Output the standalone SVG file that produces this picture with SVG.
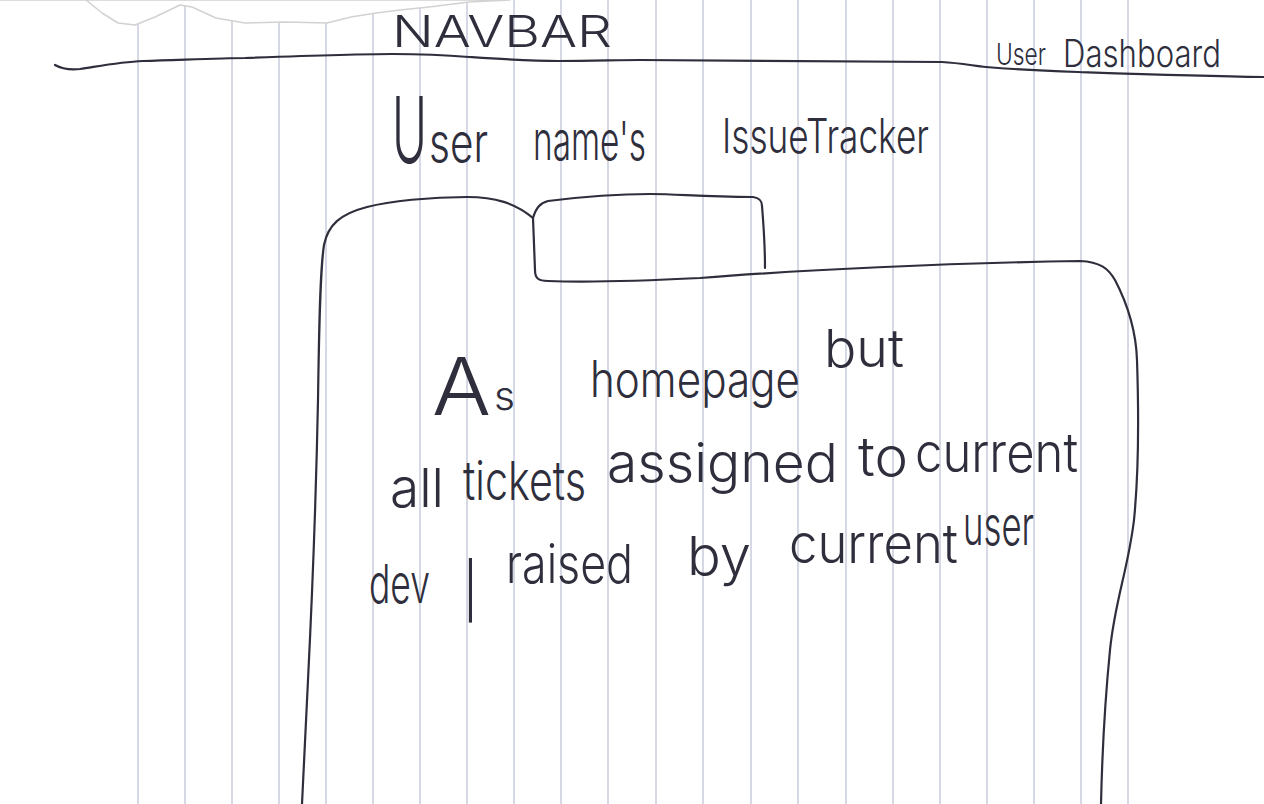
<svg xmlns="http://www.w3.org/2000/svg" width="1264" height="804" viewBox="0 0 1264 804">
  <style>
    .rule { stroke: #c9cbdd; stroke-width: 1.5; }
    .ink { fill: none; stroke: #2e2e3c; stroke-width: 2.2; stroke-linecap: round; stroke-linejoin: round; }
    .hand { font-family: Inter, Roboto, "Liberation Sans", sans-serif; font-weight: 300; fill: #2e2e3c; }
    .tear { fill: #ffffff; stroke: #d2d2d2; stroke-width: 1.5; stroke-linejoin: round; }
  </style>

  <!-- paper -->
  <rect x="0" y="0" width="1264" height="804" fill="#ffffff"/>

  <!-- vertical ruling of the notebook page -->
  <g id="ruling">
    <line class="rule" x1="138" y1="0" x2="138" y2="804"/>
    <line class="rule" x1="185" y1="0" x2="185" y2="804"/>
    <line class="rule" x1="232" y1="0" x2="232" y2="804"/>
    <line class="rule" x1="279" y1="0" x2="279" y2="804"/>
    <line class="rule" x1="326" y1="0" x2="326" y2="804"/>
    <line class="rule" x1="373" y1="0" x2="373" y2="804"/>
    <line class="rule" x1="420" y1="0" x2="420" y2="804"/>
    <line class="rule" x1="467" y1="0" x2="467" y2="804"/>
    <line class="rule" x1="514" y1="0" x2="514" y2="804"/>
    <line class="rule" x1="561" y1="0" x2="561" y2="804"/>
    <line class="rule" x1="608" y1="0" x2="608" y2="804"/>
    <line class="rule" x1="656" y1="0" x2="656" y2="804"/>
    <line class="rule" x1="703" y1="0" x2="703" y2="804"/>
    <line class="rule" x1="751" y1="0" x2="751" y2="804"/>
    <line class="rule" x1="798" y1="0" x2="798" y2="804"/>
    <line class="rule" x1="846" y1="0" x2="846" y2="804"/>
    <line class="rule" x1="893" y1="0" x2="893" y2="804"/>
    <line class="rule" x1="940" y1="0" x2="940" y2="804"/>
    <line class="rule" x1="987" y1="0" x2="987" y2="804"/>
    <line class="rule" x1="1034" y1="0" x2="1034" y2="804"/>
    <line class="rule" x1="1081" y1="0" x2="1081" y2="804"/>
    <line class="rule" x1="1128" y1="0" x2="1128" y2="804"/>
  </g>

  <!-- torn top edge of the sheet -->
  <path class="tear" d="M0,0 L86,0 L102,13 L118,23 L135,25 L155,17 L180,5 L192,7 L216,18 L245,23 L286,22 L327,23 L351,17 L376,13 L400,10 L429,7 L469,2 L510,0 Z"/>

  <!-- navigation bar -->
  <g id="navbar">
    <path class="ink" d="M55,65 C62,69 70,70 80,69 C100,66 120,62 143,61 C180,60 220,58 245,58 C300,56 360,54 392,54 C420,54 445,55 469,57 C500,59 530,61 559,61 C590,61 620,60 640,60 C760,60 880,61 942,62 C960,63 975,66 986,67 C1010,69 1050,71 1078,72 C1140,74 1200,76 1264,77"/>
    <text class="hand" font-size="44" x="392" y="47" textLength="220" lengthAdjust="spacingAndGlyphs">NAVBAR</text>
    <text class="hand" font-size="38"><tspan x="996" y="65" font-size="30" textLength="50" lengthAdjust="spacingAndGlyphs">User</tspan> <tspan x="1063" y="67" textLength="158" lengthAdjust="spacingAndGlyphs">Dashboard</tspan></text>
  </g>

  <!-- page heading -->
  <g id="heading">
    <text class="hand" font-size="54"><tspan x="392" y="163" font-size="92" textLength="35" lengthAdjust="spacingAndGlyphs">U</tspan><tspan x="429" y="162" textLength="59" lengthAdjust="spacingAndGlyphs">ser</tspan> <tspan x="533" y="160" textLength="113" lengthAdjust="spacingAndGlyphs">name's</tspan> <tspan x="722" y="153" font-size="48" textLength="207" lengthAdjust="spacingAndGlyphs">IssueTracker</tspan></text>
  </g>

  <!-- ticket panel with its tab -->
  <g id="panel">
    <path class="ink" d="M302,804 C304,760 306,720 308,680 C312,600 316,500 318,400 C319,330 320,270 324,245 C328,225 340,214 367,207 C390,201 430,197 467,197 C495,197 515,203 533,218 L535,270 C535,278 538,281 548,281 C600,283 660,280 700,278 C800,270 950,263 1080,261 C1100,262 1108,268 1115,280 C1128,305 1136,330 1137,360 C1139,420 1138,480 1134,520 C1128,570 1115,600 1110,650 C1105,700 1102,760 1101,804"/>
  </g>
  <g id="tab">
    <path class="ink" d="M533,218 C536,208 540,203 548,201 C580,197 620,194 650,194 C680,194 700,197 753,197 C760,198 762,201 762,206 C764,230 765,250 765,268"/>
  </g>

  <!-- panel note -->
  <g id="note">
    <text class="hand" font-size="50"><tspan x="432" y="415" font-size="80" textLength="59" lengthAdjust="spacingAndGlyphs">A</tspan><tspan x="494" y="410" font-size="40" textLength="21" lengthAdjust="spacingAndGlyphs">s</tspan> <tspan x="590" y="397" textLength="210" lengthAdjust="spacingAndGlyphs">homepage</tspan> <tspan x="824" y="367" font-size="52" textLength="80" lengthAdjust="spacingAndGlyphs">but</tspan></text>
    <text class="hand" font-size="54"><tspan x="390" y="507" textLength="54" lengthAdjust="spacingAndGlyphs">all</tspan> <tspan x="463" y="500" textLength="123" lengthAdjust="spacingAndGlyphs">tickets</tspan> <tspan x="607" y="482" textLength="231" lengthAdjust="spacingAndGlyphs">assigned</tspan> <tspan x="858" y="476" textLength="50" lengthAdjust="spacingAndGlyphs">to</tspan> <tspan x="915" y="472" textLength="163" lengthAdjust="spacingAndGlyphs">current</tspan></text>
    <text class="hand" font-size="54"><tspan x="369" y="603" textLength="61" lengthAdjust="spacingAndGlyphs">dev</tspan> <tspan x="462" y="610">|</tspan> <tspan x="506" y="583" textLength="127" lengthAdjust="spacingAndGlyphs">raised</tspan> <tspan x="687" y="575" textLength="64" lengthAdjust="spacingAndGlyphs">by</tspan> <tspan x="789" y="563" textLength="169" lengthAdjust="spacingAndGlyphs">current</tspan> <tspan x="963" y="545" textLength="71" lengthAdjust="spacingAndGlyphs">user</tspan></text>
  </g>
</svg>
